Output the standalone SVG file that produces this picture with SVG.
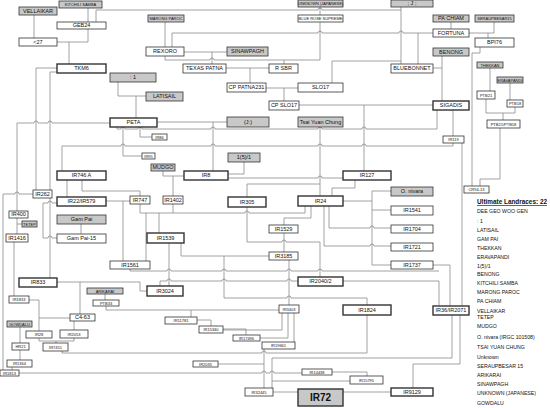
<svg xmlns="http://www.w3.org/2000/svg" width="550" height="408" viewBox="0 0 550 408">
<style>
.bg{fill:#fff}
.n rect{fill:#fff;stroke:#333;stroke-width:0.8}
.n.g rect{fill:#c8c8c8}
.n.b rect{stroke-width:1.4}
.n text{font-family:"Liberation Sans",Arial,sans-serif;font-size:5.5px;text-anchor:middle;fill:#111}
.n.s text{font-size:4px}
#edges path{fill:none;stroke:#8a8a8a;stroke-width:0.8}
.lg text{font-family:"Liberation Sans",Arial,sans-serif;font-size:5.2px;fill:#111}
</style>
<rect class="bg" width="550" height="408"/>
<g id="edges">
<path d="M34,15V38"/><path d="M88,7V22"/><path d="M57,42H88V29"/><path d="M69,42V64"/>
<path d="M96,22V10H318a2,2 0 0 1 4,0H401"/><path d="M320,7V15"/><path d="M401,7V64"/>
<path d="M165,22V47"/><path d="M184,52H227"/><path d="M212,52V64"/>
<path d="M165,56V60H210a2,2 0 0 1 4,0H320"/><path d="M320,22V60"/><path d="M284,60V64"/>
<path d="M172,47V33H318a2,2 0 0 1 4,0H399a2,2 0 0 1 4,0H433"/><path d="M418,33V64"/>
<path d="M226,68H269"/><path d="M250,68V83"/><path d="M266,88H298"/><path d="M284,88V101"/>
<path d="M332,83V61H401"/><path d="M451,22V29"/><path d="M494,22V33H469"/><path d="M488,33V38"/>
<path d="M442,56V101"/><path d="M433,68H442"/><path d="M490,68V91"/><path d="M510,83V100"/>
<path d="M486,99V113H515V107"/><path d="M503,113V120"/><path d="M500,128V179H480V186"/>
<path d="M480,47V53H472V186"/>
<path d="M118,82V96H146"/><path d="M136,96V118"/>
<path d="M57,68H36V190"/><path d="M57,72H50V278"/>
<path d="M17,211V123H34a2,2 0 0 1 4,0H48a2,2 0 0 1 4,0H110"/>
<path d="M3,370V194H15a2,2 0 0 1 4,0H33"/>
<path d="M157,122H227"/><path d="M213,122V171"/>
<path d="M299,105H433"/><path d="M364,105V171"/>
<path d="M117,127V129H121a2,2 0 0 1 4,0H138a2,2 0 0 1 4,0H211a2,2 0 0 1 4,0H318a2,2 0 0 1 4,0H362a2,2 0 0 1 4,0H437V110"/>
<path d="M123,127V156H142"/><path d="M140,127V137H152"/><path d="M453,110V136"/>
<path d="M62,171V146H121a2,2 0 0 1 4,0H211a2,2 0 0 1 4,0H318a2,2 0 0 1 4,0H362a2,2 0 0 1 4,0H453V143"/>
<path d="M462,143V306"/><path d="M320,127V196"/>
<path d="M228,178H318a2,2 0 0 1 4,0H343"/><path d="M228,174H244V162"/>
<path d="M247,197V184H320"/><path d="M355,180V188H332V196"/>
<path d="M184,176H173V196"/><path d="M163,171V176H173"/>
<path d="M82,180V191H140V196"/><path d="M67,180V197"/>
<path d="M106,201H130"/><path d="M123,201V261"/>
<path d="M43,238V203H48a2,2 0 0 1 4,0H57"/><path d="M43,238H48a2,2 0 0 1 4,0H57"/>
<path d="M81,224V234"/>
<path d="M140,204V213H245a2,2 0 0 1 4,0H305V206"/><path d="M173,204V213"/>
<path d="M146,213V261"/><path d="M159,213V233"/>
<path d="M247,207V242H282a2,2 0 0 1 4,0H320V277"/>
<path d="M311,206V218H284V225"/><path d="M284,233V252"/>
<path d="M343,201H372V265H391"/><path d="M372,210H391"/><path d="M391,191H372V201"/>
<path d="M329,206V228H370a2,2 0 0 1 4,0H391"/><path d="M324,206V246H370a2,2 0 0 1 4,0H391"/>
<path d="M433,265H450V306"/><path d="M343,281H439V306"/>
<path d="M130,269V271H167a2,2 0 0 1 4,0H222a2,2 0 0 1 4,0H287a2,2 0 0 1 4,0H318a2,2 0 0 1 4,0H439"/>
<path d="M181,243V256H269"/><path d="M169,243V286"/>
<path d="M160,286V281H167a2,2 0 0 1 4,0H222a2,2 0 0 1 4,0H287a2,2 0 0 1 4,0H298"/>
<path d="M224,256V298H287a2,2 0 0 1 4,0H367V305"/><path d="M289,260V305"/>
<path d="M17,218V234"/><path d="M17,224H22"/><path d="M14,242V296"/>
<path d="M57,282H140V291H147"/><path d="M80,282V314"/>
<path d="M105,294V300"/><path d="M106,306V310H279"/><path d="M191,310V317"/>
<path d="M29,300H39V331"/><path d="M70,318H39"/><path d="M74,330V321"/>
<path d="M39,338V341H74V338"/><path d="M56,341V343"/>
<path d="M20,327V343"/><path d="M20,350V360"/><path d="M12,367V370"/>
<path d="M19,373H262a2,2 0 0 1 4,0H270a2,2 0 0 1 4,0H302"/>
<path d="M62,351V353H262a2,2 0 0 1 4,0H367V315"/>
<path d="M218,364H264"/><path d="M264,349V388"/>
<path d="M452,315V358H272V388"/><path d="M460,315V364H413V388"/>
<path d="M272,381H350"/><path d="M332,372H367V376"/>
<path d="M282,313V330H223"/><path d="M288,313V338H260"/><path d="M294,313V342"/>
<path d="M197,320H211V326"/><path d="M223,329H246V335"/>
<path d="M273,392H298"/><path d="M343,392H391"/>
</g>
<g id="n-vellaikar" class="n g"><rect x="19" y="7" width="38" height="8"/><text x="38" y="13">VELLAIKAR</text></g>
<g id="n-kitchili" class="n g s"><rect x="59" y="1" width="43" height="7"/><text x="80.5" y="6">KITCHILI SAMBA</text></g>
<g id="n-geb24" class="n"><rect x="57" y="22" width="49" height="7"/><text x="81.5" y="27.4">GEB24</text></g>
<g id="n-x27" class="n"><rect x="19" y="38" width="38" height="8"/><text x="38" y="44">&lt;27</text></g>
<g id="n-tkm6" class="n b"><rect x="57" y="64" width="49" height="9"/><text x="81.5" y="70.4">TKM6</text></g>
<g id="n-c1" class="n g"><rect x="110" y="73" width="46" height="9"/><text x="133" y="79.4">: 1</text></g>
<g id="n-latisail" class="n g"><rect x="146" y="92" width="37" height="9"/><text x="164.5" y="98.4">LATISAIL</text></g>
<g id="n-peta" class="n b"><rect x="110" y="118" width="47" height="9"/><text x="133.5" y="124.4">PETA</text></g>
<g id="n-marong" class="n g s"><rect x="148" y="15" width="36" height="7"/><text x="166" y="20">MARONG PAROC</text></g>
<g id="n-rexoro" class="n"><rect x="146" y="47" width="38" height="9"/><text x="165" y="53.4">REXORO</text></g>
<g id="n-sinawpagh" class="n g"><rect x="227" y="47" width="41" height="9"/><text x="247.5" y="53.4">SINAWPAGH</text></g>
<g id="n-texas" class="n"><rect x="183" y="64" width="43" height="9"/><text x="204.5" y="70.4">TEXAS PATNA</text></g>
<g id="n-rsbr" class="n"><rect x="269" y="64" width="29" height="9"/><text x="283.5" y="70.4">R SBR</text></g>
<g id="n-cppatna" class="n"><rect x="227" y="83" width="39" height="9"/><text x="246.5" y="89.4">CP PATNA231</text></g>
<g id="n-slo17" class="n"><rect x="298" y="83" width="45" height="9"/><text x="320.5" y="89.4">SLO17</text></g>
<g id="n-cpslo17" class="n"><rect x="269" y="101" width="30" height="9"/><text x="284" y="107.4">CP SLO17</text></g>
<g id="n-dgwg" class="n g"><rect x="227" y="117" width="42" height="10"/><text x="248" y="124">(J:)</text></g>
<g id="n-tsai" class="n g"><rect x="298" y="117" width="45" height="10"/><text x="320.5" y="124">Tsai Yuan Chung</text></g>
<g id="n-unkjp" class="n g s"><rect x="298" y="0" width="45" height="7"/><text x="320.5" y="5">UNKNOWN (JAPANESE)</text></g>
<g id="n-bluerose" class="n s"><rect x="298" y="15" width="45" height="7"/><text x="320.5" y="20">BLUE ROSE SUPREME</text></g>
<g id="n-unk" class="n g"><rect x="391" y="0" width="42" height="7"/><text x="412" y="5.3">; J ;</text></g>
<g id="n-bluebonnet" class="n"><rect x="391" y="64" width="42" height="9"/><text x="412" y="70.4">BLUEBONNET</text></g>
<g id="n-pachiam" class="n g"><rect x="433" y="15" width="36" height="7"/><text x="451" y="20.4">PA CHIAM</text></g>
<g id="n-fortuna" class="n"><rect x="433" y="29" width="36" height="8"/><text x="451" y="34.9">FORTUNA</text></g>
<g id="n-seraup" class="n g s"><rect x="475" y="15" width="39" height="7"/><text x="494.5" y="20">SERAUPBESAR15</text></g>
<g id="n-bpi76" class="n"><rect x="475" y="38" width="39" height="9"/><text x="494.5" y="44.4">BPI76</text></g>
<g id="n-benong" class="n g"><rect x="433" y="48" width="36" height="8"/><text x="451" y="53.9">BENONG</text></g>
<g id="n-sigadis" class="n b"><rect x="433" y="101" width="36" height="9"/><text x="451" y="107.4">SIGADIS</text></g>
<g id="n-thekkan" class="n g s"><rect x="477" y="62" width="26" height="6"/><text x="490" y="66.5">THEKKAN</text></g>
<g id="n-eravapandi" class="n g s"><rect x="497" y="77" width="26" height="6"/><text x="510" y="81.5">ERAVAPANDI</text></g>
<g id="n-ptb21" class="n s"><rect x="477" y="91" width="18" height="8"/><text x="486" y="96.5">PTB21</text></g>
<g id="n-ptb18" class="n s"><rect x="507" y="100" width="16" height="7"/><text x="515" y="105">PTB18</text></g>
<g id="n-ptb2118" class="n s"><rect x="487" y="120" width="33" height="8"/><text x="503.5" y="125.5">PTB21/PTB18</text></g>
<g id="n-ir119" class="n s"><rect x="443" y="136" width="21" height="7"/><text x="453.5" y="141">IR119</text></g>
<g id="n-cr9413" class="n s"><rect x="464" y="186" width="25" height="7"/><text x="476.5" y="191">CR94-13</text></g>
<g id="n-ir86" class="n s"><rect x="152" y="134" width="15" height="6"/><text x="159.5" y="138.5">IR86</text></g>
<g id="n-ir95" class="n s"><rect x="142" y="153" width="13" height="6"/><text x="148.5" y="157.5">IR95</text></g>
<g id="n-c3" class="n g"><rect x="228" y="153" width="32" height="9"/><text x="244" y="159.4">1(5)/1</text></g>
<g id="n-mudgo" class="n g"><rect x="151" y="164" width="24" height="7"/><text x="163" y="169.4">MUDGO</text></g>
<g id="n-ir8" class="n b"><rect x="184" y="171" width="44" height="9"/><text x="206" y="177.4">IR8</text></g>
<g id="n-ir127" class="n b"><rect x="343" y="171" width="48" height="9"/><text x="367" y="177.4">IR127</text></g>
<g id="n-ir746a" class="n b"><rect x="57" y="171" width="49" height="9"/><text x="81.5" y="177.4">IR746 A</text></g>
<g id="n-ir262" class="n"><rect x="33" y="190" width="19" height="8"/><text x="42.5" y="195.9">IR262</text></g>
<g id="n-ir22" class="n b"><rect x="57" y="197" width="49" height="9"/><text x="81.5" y="203.4">IR22/IR579</text></g>
<g id="n-ir747" class="n"><rect x="130" y="196" width="20" height="8"/><text x="140" y="201.9">IR747</text></g>
<g id="n-ir1402" class="n"><rect x="163" y="196" width="20" height="8"/><text x="173" y="201.9">IR1402</text></g>
<g id="n-ir305" class="n b"><rect x="228" y="197" width="38" height="10"/><text x="247" y="204">IR305</text></g>
<g id="n-ir24" class="n b"><rect x="298" y="196" width="45" height="10"/><text x="320.5" y="203">IR24</text></g>
<g id="n-onivara" class="n g"><rect x="391" y="187" width="42" height="9"/><text x="412" y="193.4">O. nivara</text></g>
<g id="n-ir1541" class="n"><rect x="391" y="206" width="42" height="9"/><text x="412" y="212.4">IR1541</text></g>
<g id="n-ir1704" class="n"><rect x="391" y="225" width="42" height="8"/><text x="412" y="230.9">IR1704</text></g>
<g id="n-ir1721" class="n"><rect x="391" y="243" width="42" height="8"/><text x="412" y="248.9">IR1721</text></g>
<g id="n-ir1737" class="n"><rect x="391" y="261" width="42" height="8"/><text x="412" y="266.9">IR1737</text></g>
<g id="n-ir1529" class="n"><rect x="269" y="225" width="29" height="8"/><text x="283.5" y="230.9">IR1529</text></g>
<g id="n-ir3185" class="n"><rect x="269" y="252" width="29" height="8"/><text x="283.5" y="257.9">IR3185</text></g>
<g id="n-ir400" class="n"><rect x="9" y="211" width="19" height="7"/><text x="18.5" y="216.4">IR400</text></g>
<g id="n-tetep" class="n g s"><rect x="22" y="221" width="15" height="6"/><text x="29.5" y="225.5">TETEP</text></g>
<g id="n-gampai" class="n g"><rect x="57" y="215" width="49" height="9"/><text x="81.5" y="221.4">Gam Pai</text></g>
<g id="n-ir1416" class="n"><rect x="6" y="234" width="22" height="8"/><text x="17" y="239.9">IR1416</text></g>
<g id="n-gampai15" class="n"><rect x="57" y="234" width="49" height="9"/><text x="81.5" y="240.4">Gam Pai-15</text></g>
<g id="n-ir1539" class="n b"><rect x="147" y="233" width="37" height="10"/><text x="165.5" y="240">IR1539</text></g>
<g id="n-ir1561" class="n"><rect x="110" y="261" width="40" height="8"/><text x="130" y="266.9">IR1561</text></g>
<g id="n-ir833" class="n b"><rect x="19" y="278" width="38" height="9"/><text x="38" y="284.4">IR833</text></g>
<g id="n-arikarai" class="n g s"><rect x="87" y="288" width="36" height="6"/><text x="105" y="292.5">ARIKARAI</text></g>
<g id="n-ptb33" class="n s"><rect x="93" y="300" width="26" height="6"/><text x="106" y="304.5">PTB33</text></g>
<g id="n-ir1833" class="n s"><rect x="9" y="296" width="20" height="7"/><text x="19" y="301">IR1833</text></g>
<g id="n-c463" class="n"><rect x="70" y="314" width="25" height="7"/><text x="82.5" y="319.4">C4-63</text></g>
<g id="n-gowdalu" class="n g s"><rect x="7" y="321" width="25" height="6"/><text x="19.5" y="325.5">GOWDALU</text></g>
<g id="n-ir28" class="n s"><rect x="26" y="331" width="26" height="7"/><text x="39" y="336">IR28</text></g>
<g id="n-ir2053" class="n s"><rect x="60" y="330" width="28" height="8"/><text x="74" y="335.5">IR2053</text></g>
<g id="n-hr21" class="n s"><rect x="12" y="343" width="17" height="7"/><text x="20.5" y="348">HR21</text></g>
<g id="n-ir7451" class="n s"><rect x="43" y="343" width="25" height="8"/><text x="55.5" y="348.5">IR7451</text></g>
<g id="n-ir1364" class="n s"><rect x="7" y="360" width="25" height="7"/><text x="19.5" y="365">IR1364</text></g>
<g id="n-ir1813" class="n s"><rect x="0" y="370" width="19" height="6"/><text x="9.5" y="374.5">IR1813</text></g>
<g id="n-ir3024" class="n b"><rect x="147" y="286" width="36" height="10"/><text x="165" y="293">IR3024</text></g>
<g id="n-ir11781" class="n s"><rect x="165" y="317" width="32" height="7"/><text x="181" y="322">IR11781</text></g>
<g id="n-ir15340" class="n s"><rect x="199" y="326" width="24" height="7"/><text x="211" y="331">IR15340</text></g>
<g id="n-ir17496" class="n s"><rect x="233" y="335" width="27" height="6"/><text x="246.5" y="339.5">IR17496</text></g>
<g id="n-ir19661" class="n s"><rect x="262" y="342" width="33" height="7"/><text x="278.5" y="347">IR19661</text></g>
<g id="n-ir2035" class="n s"><rect x="193" y="361" width="25" height="6"/><text x="205.5" y="365.5">IR2035</text></g>
<g id="n-ir32445" class="n s"><rect x="245" y="388" width="28" height="8"/><text x="259" y="393.5">IR32445</text></g>
<g id="n-ir20402" class="n b"><rect x="298" y="277" width="45" height="9"/><text x="320.5" y="283.4">IR2040/2</text></g>
<g id="n-ir3403" class="n s"><rect x="279" y="305" width="20" height="8"/><text x="289" y="310.5">IR3403</text></g>
<g id="n-ir1824" class="n b"><rect x="343" y="305" width="48" height="10"/><text x="367" y="312">IR1824</text></g>
<g id="n-ir14438" class="n s"><rect x="302" y="369" width="30" height="6"/><text x="317" y="373.5">IR14438</text></g>
<g id="n-ir15795" class="n s"><rect x="350" y="376" width="33" height="8"/><text x="366.5" y="381.5">IR15795</text></g>
<g id="n-ir72" class="n b g"><rect x="298" y="389" width="45" height="17"/><text x="320.5" y="401" style="font-size:10px;font-weight:bold">IR72</text></g>
<g id="n-ir9129" class="n b"><rect x="391" y="388" width="42" height="8"/><text x="412" y="393.9">IR9129</text></g>
<g id="n-ir36" class="n b"><rect x="433" y="306" width="36" height="9"/><text x="451" y="312.4">IR36/IR2071</text></g>
<g id="legend" class="lg">
<text x="477" y="204" textLength="70" lengthAdjust="spacingAndGlyphs" style="font-size:6.5px;font-weight:bold;text-decoration:underline">Ultimate Landraces: 22</text>
<text x="477" y="213">DEE GEO WOO GEN</text>
<text x="477" y="223">: 1</text>
<text x="477" y="232">LATISAIL</text>
<text x="477" y="241">GAM PAI</text>
<text x="477" y="250">THEKKAN</text>
<text x="477" y="259">ERAVAPANDI</text>
<text x="477" y="268">1(5)/1</text>
<text x="477" y="275.5">BENONG</text>
<text x="477" y="285">KITCHILI SAMBA</text>
<text x="477" y="294">MARONG PAROC</text>
<text x="477" y="303">PA CHIAM</text>
<text x="477" y="312.5">VELLAIKAR</text>
<text x="477" y="318.5">TETEP</text>
<text x="477" y="328">MUDGO</text>
<text x="477" y="338.5">O. nivara (IRGC 101508)</text>
<text x="477" y="349">TSAI YUAN CHUNG</text>
<text x="477" y="358.5">Unknown</text>
<text x="477" y="368">SERAUPBESAR 15</text>
<text x="477" y="377">ARIKARAI</text>
<text x="477" y="386">SINAWPAGH</text>
<text x="477" y="395">UNKNOWN (JAPANESE)</text>
<text x="477" y="405">GOWDALU</text>
</g>
</svg>
